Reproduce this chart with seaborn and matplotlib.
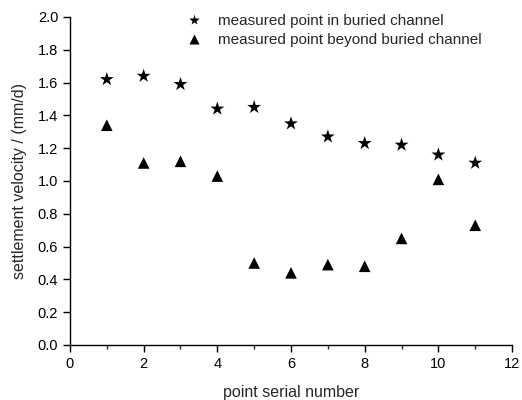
import numpy as np
import pandas as pd
import seaborn as sns
import matplotlib.pyplot as plt
from matplotlib.ticker import MultipleLocator

point_no = [1, 2, 3, 4, 5, 6, 7, 8, 9, 10, 11]
in_channel = [1.62, 1.64, 1.59, 1.44, 1.45, 1.35, 1.27, 1.23, 1.22, 1.16, 1.11]
beyond_channel = [1.34, 1.11, 1.12, 1.03, 0.50, 0.44, 0.49, 0.48, 0.65, 1.01, 0.73]

lab_in = "measured point in buried channel"
lab_out = "measured point beyond buried channel"

df = pd.DataFrame({
    "point": point_no * 2,
    "velocity": in_channel + beyond_channel,
    "group": [lab_in] * len(point_no) + [lab_out] * len(point_no),
})

sns.set_theme(style="ticks")
plt.rcParams["font.family"] = ["Liberation Sans", "DejaVu Sans"]

fig = plt.figure(figsize=(5.22, 4.0), dpi=100)
ax = fig.add_axes([0.134, 0.1375, 0.847, 0.82])

sns.scatterplot(data=df, x="point", y="velocity", style="group", size="group",
                markers={lab_in: "*", lab_out: "^"},
                sizes={lab_in: 110, lab_out: 70}, color="black",
                edgecolor="none", ax=ax)

ax.set_xlim(0, 12)
ax.set_ylim(0, 2.0)
ax.xaxis.set_major_locator(MultipleLocator(2))
ax.xaxis.set_minor_locator(MultipleLocator(1))
ax.yaxis.set_major_locator(MultipleLocator(0.2))
ax.tick_params(axis="both", which="major", direction="out", length=5, width=1,
               labelsize=10.5, colors="black")
ax.tick_params(axis="x", which="minor", direction="out", length=3, width=1)
ax.yaxis.set_major_formatter(plt.FuncFormatter(lambda v, p: f"{v:.1f}"))
for s in ["top", "right"]:
    ax.spines[s].set_visible(False)
for s in ["left", "bottom"]:
    ax.spines[s].set_color("black")
    ax.spines[s].set_linewidth(1)

ax.set_xlabel("point serial number", fontsize=11.5, labelpad=10)
ax.set_ylabel("settlement velocity / (mm/d)", fontsize=11.5, labelpad=8)

leg = ax.legend(loc="upper left", bbox_to_anchor=(0.215, 1.05), frameon=False,
                fontsize=11, handletextpad=0.6, labelspacing=0.3)
for h, ms in zip(leg.legend_handles, [8, 7]):
    h.set_markersize(ms)

fig.savefig("out.png", dpi=100)
